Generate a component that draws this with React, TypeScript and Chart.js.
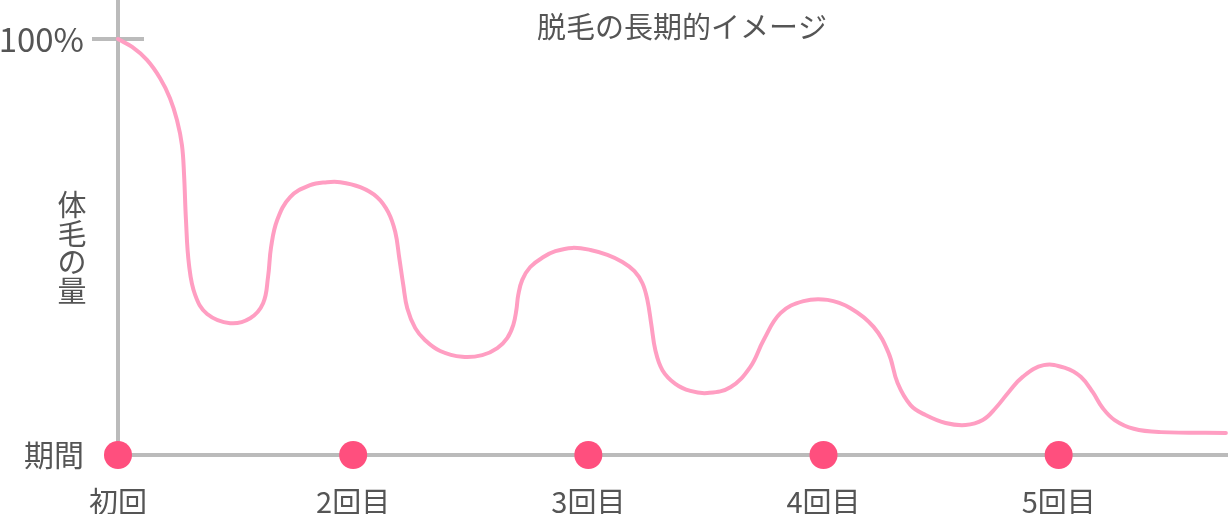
import React, { useEffect, useRef } from 'react';
import Chart from 'chart.js/auto';

// x = session number (0 = 初回), y = amount of body hair in %
const sessionLabels = ['初回', '2回目', '3回目', '4回目', '5回目'];
const sessionValues = [0, 1, 2, 3, 4];
const yTickValues = [0, 100];
const yTickLabels = ['期間', '100%'];
const titleText = '脱毛の長期的イメージ';
const yAxisLabel = ['体', '毛', 'の', '量'];

const curveX = [
  0, 0.06, 0.123, 0.179, 0.221, 0.251, 0.272, 0.281, 0.289, 0.302, 0.328, 0.379, 0.477, 0.562, 0.617,
  0.638, 0.651, 0.677, 0.732, 0.817, 0.889, 0.945, 1.03, 1.102, 1.149, 1.179, 1.196, 1.213, 1.23, 1.264,
  1.306, 1.37, 1.464, 1.549, 1.613, 1.655, 1.681, 1.694, 1.702, 1.719, 1.753, 1.809, 1.86, 1.932, 2.009,
  2.081, 2.145, 2.196, 2.23, 2.251, 2.268, 2.285, 2.315, 2.37, 2.434, 2.506, 2.604, 2.689, 2.745, 2.817,
  2.915, 3.017, 3.115, 3.213, 3.277, 3.315, 3.37, 3.434, 3.519, 3.604, 3.677, 3.732, 3.787, 3.847, 3.936,
  4.03, 4.094, 4.145, 4.187, 4.238, 4.319, 4.434, 4.711,
];
const curveY = [
  100, 98.1, 95.0, 90.6, 85.8, 80.5, 74.5, 67.3, 56.5, 45.7, 38.5, 33.9, 31.7, 32.9, 36.5,
  42.8, 50.0, 56.5, 62.0, 64.9, 65.6, 65.6, 64.4, 62.0, 58.4, 53.6, 47.4, 40.9, 35.3, 30.5,
  27.6, 25.0, 23.6, 24.0, 25.7, 28.1, 31.3, 34.9, 38.5, 42.1, 45.2, 47.6, 49.0, 49.8, 49.3,
  48.1, 46.4, 44.2, 41.3, 37.3, 31.3, 25.2, 20.4, 17.1, 15.4, 14.9, 16.3, 21.2, 27.6, 34.1,
  37.0, 37.3, 35.3, 30.8, 24.5, 17.3, 12.0, 9.6, 7.7, 7.2, 8.4, 11.3, 15.1, 18.8, 21.6,
  20.9, 18.8, 15.1, 11.3, 8.4, 6.3, 5.5, 5.3,
];

const AXIS = '#bbbbbb';
const TEXT = '#555555';
const FONT = '"Noto Sans CJK JP", "Noto Sans", sans-serif';

const overlay = {
  id: 'overlay',
  beforeDatasetsDraw(chart: any) {
    const { ctx, chartArea, scales } = chart;
    const py = scales.y.getPixelForValue(100);
    ctx.save();
    ctx.strokeStyle = AXIS;
    ctx.lineWidth = 4;
    ctx.beginPath();
    ctx.moveTo(chartArea.left - 26, py);
    ctx.lineTo(chartArea.left + 26, py);
    ctx.stroke();
    ctx.restore();
  },
  afterDraw(chart: any) {
    const { ctx, chartArea } = chart;
    ctx.save();
    ctx.fillStyle = TEXT;
    ctx.font = `29px ${FONT}`;
    ctx.textAlign = 'center';
    ctx.textBaseline = 'middle';
    ctx.fillText(titleText, (chartArea.left + chartArea.right) / 2 + 9, 27);
    yAxisLabel.forEach((ch, i) => {
      ctx.fillText(ch, chartArea.left - 46, 205 + i * 28.5);
    });
    ctx.restore();
  },
};

const App: React.FC = () => {
  const canvasRef = useRef<HTMLCanvasElement>(null);
  const chartInstance = useRef<Chart | null>(null);

  useEffect(() => {
    if (!canvasRef.current) return;
    if (chartInstance.current) chartInstance.current.destroy();

    chartInstance.current = new Chart(canvasRef.current, {
      type: 'line',
      data: {
        datasets: [
          {
            label: 'dots',
            data: sessionValues.map(v => ({ x: v, y: 0 })),
            showLine: false,
            pointRadius: 14,
            pointHoverRadius: 14,
            pointBackgroundColor: '#ff4f7e',
            pointBorderWidth: 0,
            clip: false as any,
            order: 0,
          },
          {
            label: 'curve',
            data: curveX.map((x, i) => ({ x, y: curveY[i] })),
            borderColor: '#ff9ec2',
            borderWidth: 4,
            borderCapStyle: 'round',
            borderJoinStyle: 'round',
            pointRadius: 0,
            tension: 0.4,
            fill: false,
            clip: false as any,
            order: 1,
          },
        ],
      },
      options: {
        responsive: true,
        maintainAspectRatio: false,
        animation: false,
        layout: { padding: 0, autoPadding: false },
        scales: {
          x: {
            type: 'linear',
            min: 0,
            max: 4.72,
            border: { color: AXIS, width: 4 },
            grid: { display: false },
            afterBuildTicks: (scale: any) => {
              scale.ticks = sessionValues.map(v => ({ value: v }));
            },
            afterFit: (scale: any) => {
              scale.height = 59;
              scale.paddingLeft = 0;
              scale.paddingRight = 0;
            },
            ticks: {
              color: TEXT,
              font: { family: FONT, size: 29 },
              padding: 22,
              maxRotation: 0,
              autoSkip: false,
              callback: (value: any) => sessionLabels[sessionValues.indexOf(Number(value))] ?? '',
            },
          },
          y: {
            type: 'linear',
            min: 0,
            max: 109.4,
            border: { color: AXIS, width: 4 },
            grid: { display: false },
            afterBuildTicks: (scale: any) => {
              scale.ticks = yTickValues.map(v => ({ value: v }));
            },
            afterFit: (scale: any) => {
              scale.width = 118;
              scale.paddingTop = 0;
              scale.paddingBottom = 0;
            },
            ticks: {
              color: TEXT,
              font: (c: any) => ({ family: FONT, size: c.tick && c.tick.value === 100 ? 33 : 30 }),
              padding: 26,
              callback: (value: any) => yTickLabels[yTickValues.indexOf(Number(value))] ?? '',
            },
          },
        },
        plugins: {
          legend: { display: false },
          title: { display: false },
          tooltip: { enabled: false },
        },
      },
      plugins: [overlay],
    });

    return () => {
      if (chartInstance.current) {
        chartInstance.current.destroy();
        chartInstance.current = null;
      }
    };
  }, []);

  return (
    <div style={{ position: 'absolute', left: 0, top: 0, width: 1228, height: 514, background: '#fff' }}>
      <canvas ref={canvasRef} />
    </div>
  );
};

export default App;
